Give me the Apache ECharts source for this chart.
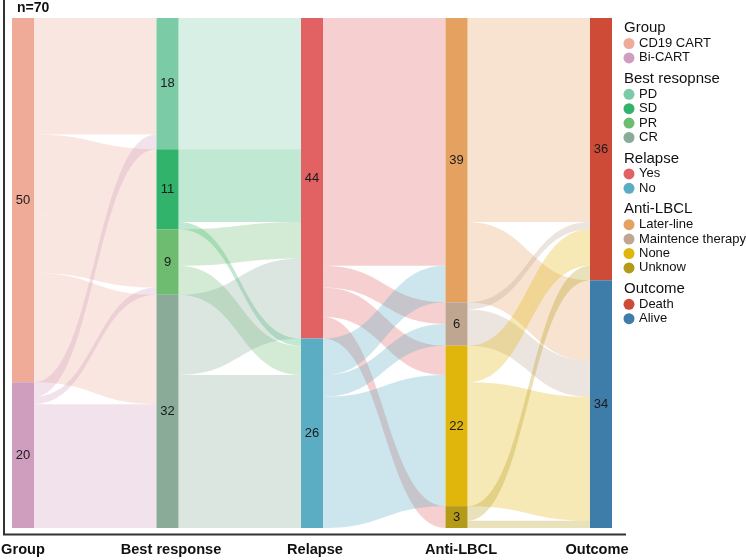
<!DOCTYPE html>
<html><head><meta charset="utf-8">
<script src="https://cdn.jsdelivr.net/npm/echarts@6/dist/echarts.min.js"></script>
<style>html,body{margin:0;padding:0;background:#fff}#c{width:746px;height:560px}</style>
</head><body><div id="c"></div>
<script>
// ---- data ----
const stageTitles = ['Group', 'Best response', 'Relapse', 'Anti-LBCL', 'Outcome'];
const legendTitles = ['Group', 'Best resopnse', 'Relapse', 'Anti-LBCL', 'Outcome'];
const groupNames = ['CD19 CART', 'Bi-CART'];
const responseNames = ['PD', 'SD', 'PR', 'CR'];
const relapseNames = ['Yes', 'No'];
const antiNames = ['Later-line', 'Maintence therapy', 'None', 'Unknow'];
const outcomeNames = ['Death', 'Alive'];
// flows: rows = source category, columns = target category
const groupToResponse = [[16, 11, 8, 15], [2, 0, 1, 17]];
const responseToRelapse = [[18, 0], [10, 1], [5, 4], [11, 21]];
const relapseToAnti = [[34, 3, 4, 3], [5, 3, 18, 0]];
const antiToOutcome = [[28, 11], [1, 5], [5, 17], [2, 1]];
const totalLabel = 'n=70';

// ---- styles ----
const groupColors = ['#EFAB97', '#CF9EBE'];
const responseColors = ['#7BCBA6', '#31B36B', '#6DBC70', '#89AB98'];
const relapseColors = ['#E26264', '#5AADC3'];
const antiColors = ['#E4A15F', '#BFA691', '#E0B60C', '#B59A18'];
const outcomeColors = ['#CE4B37', '#3E7CAA'];

const stages = [groupNames, responseNames, relapseNames, antiNames, outcomeNames];
const palettes = [groupColors, responseColors, relapseColors, antiColors, outcomeColors];
const flows = [groupToResponse, responseToRelapse, relapseToAnti, antiToOutcome];

const nodes = stages.flatMap((names, s) => names.map((n, i) => ({ name: n, itemStyle: { color: palettes[s][i] } })));
const links = [];
flows.forEach((m, s) => m.forEach((row, i) => row.forEach((v, j) => {
  if (v > 0) links.push({ source: stages[s][i], target: stages[s + 1][j], value: v });
})));

const FONT = 'Liberation Sans, Arial, Helvetica, sans-serif';
const graphics = [];
// axes lines
graphics.push({ type: 'line', shape: { x1: 4, y1: 0, x2: 4, y2: 535 }, style: { stroke: '#333', lineWidth: 2 } });
graphics.push({ type: 'line', shape: { x1: 3, y1: 534.5, x2: 626, y2: 534.5 }, style: { stroke: '#333', lineWidth: 2 } });
graphics.push({ type: 'text', x: 17, y: 8.5, style: { text: totalLabel, font: 'bold 14px ' + FONT, fill: '#111', textVerticalAlign: 'middle' } });
const titleX = [23, 171, 315, 461, 597];
stageTitles.forEach((t, i) => graphics.push({
  type: 'text', x: titleX[i], y: 550,
  style: { text: t, font: 'bold 14.6px ' + FONT, fill: '#111', textAlign: 'center', textVerticalAlign: 'middle' }
}));
// legend
let ly = 28;
stages.forEach((names, s) => {
  graphics.push({ type: 'text', x: 624, y: ly, style: { text: legendTitles[s], font: '15px ' + FONT, fill: '#111', textVerticalAlign: 'middle' } });
  ly += 15.5;
  names.forEach((n, i) => {
    graphics.push({ type: 'circle', shape: { cx: 629, cy: ly, r: 5.5 }, style: { fill: palettes[s][i] } });
    graphics.push({ type: 'text', x: 639, y: ly, style: { text: n, font: '13px ' + FONT, fill: '#111', textVerticalAlign: 'middle' } });
    ly += 14.4;
  });
  ly += 6.5;
});

const chart = echarts.init(document.getElementById('c'), null, { renderer: 'canvas' });
chart.setOption({
  animation: false,
  backgroundColor: '#fff',
  graphic: graphics,
  series: [{
    type: 'sankey',
    left: 12, right: 134, top: 18, bottom: 32,
    nodeWidth: 22, nodeGap: 0, layoutIterations: 0, draggable: false,
    data: nodes, links: links,
    itemStyle: { borderWidth: 0 },
    lineStyle: { color: 'source', opacity: 0.3, curveness: 0.5 },
    label: { position: 'inside', formatter: p => p.value, fontSize: 13, color: '#1a1a1a', fontFamily: FONT },
    emphasis: { disabled: true }
  }]
});
</script></body></html>
